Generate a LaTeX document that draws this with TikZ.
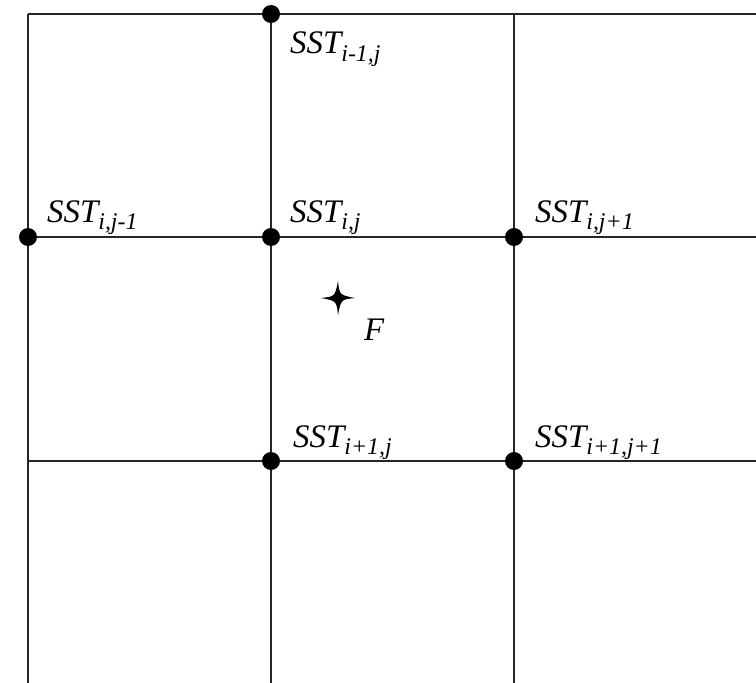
\documentclass[tikz,border=0pt]{standalone}
\usepackage{fontspec}
\setmainfont{Liberation Serif}
\newcommand{\sstlab}[1]{{\fontsize{33}{33}\selectfont\itshape SST}\raisebox{-8pt}{\fontsize{24}{24}\selectfont\itshape #1}}
\tikzset{
  gridline/.style={line width=1.4pt, black!85},
  pt/.style={circle, fill=black, inner sep=0pt, minimum size=18bp},
  lab/.style={anchor=base west, inner sep=0pt},
}
\begin{document}
\begin{tikzpicture}[x=1bp,y=-1bp]
\useasboundingbox (0,0) rectangle (756,683);
% grid coordinates
\coordinate (tl) at (28,14);
\coordinate (tm) at (271,14);
\coordinate (tr) at (514,14);
\coordinate (te) at (756,14);
\coordinate (ml) at (28,237);
\coordinate (mm) at (271,237);
\coordinate (mr) at (514,237);
\coordinate (me) at (756,237);
\coordinate (ll) at (28,461);
\coordinate (lm) at (271,461);
\coordinate (lr) at (514,461);
\coordinate (le) at (756,461);
\coordinate (bl) at (28,683);
\coordinate (bm) at (271,683);
\coordinate (br) at (514,683);
% grid lines
\draw[gridline] (tl) -- (te);
\draw[gridline] (ml) -- (me);
\draw[gridline] (ll) -- (le);
\draw[gridline] (tl) -- (bl);
\draw[gridline] (tm) -- (bm);
\draw[gridline] (tr) -- (br);
% points
\node[pt] (p1) at (tm) {};
\node[pt] (p2) at (ml) {};
\node[pt] (p3) at (mm) {};
\node[pt] (p4) at (mr) {};
\node[pt] (p5) at (lm) {};
\node[pt] (p6) at (lr) {};
% labels
\node[lab] (l1) at (290,54) {\sstlab{i-1,j}};
\node[lab] (l2) at (47,222) {\sstlab{i,j-1}};
\node[lab] (l3) at (290,222) {\sstlab{i,j}};
\node[lab] (l4) at (535,222) {\sstlab{i,j+1}};
\node[lab] (l5) at (293,447) {\sstlab{i+1,j}};
\node[lab] (l6) at (535,447) {\sstlab{i+1,j+1}};
% star F
\coordinate (star) at (338,298);
\fill (star) ++(0,-17) .. controls ++(1.5,14) .. ++(17,17)
  .. controls ++(-14,1.5) .. ++(-17,17)
  .. controls ++(-1.5,-14) .. ++(-17,-17)
  .. controls ++(14,-1.5) .. cycle;
\node[lab] (F) at (364,340) {\fontsize{33}{33}\selectfont\itshape F};
\end{tikzpicture}
\end{document}
